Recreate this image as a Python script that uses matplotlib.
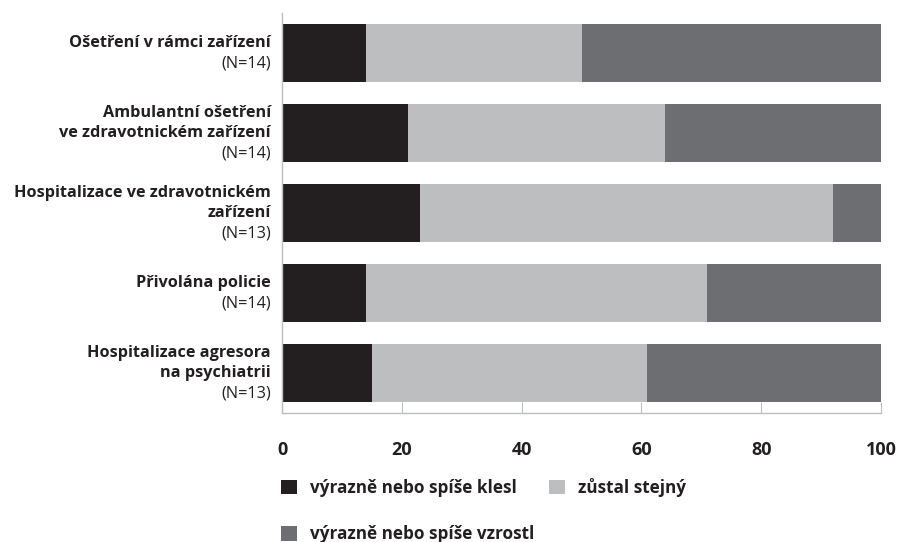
import matplotlib.pyplot as plt
from matplotlib.patches import Patch
from matplotlib.transforms import offset_copy, blended_transform_factory

plt.rcParams['font.family'] = ['Open Sans', 'DejaVu Sans']

# data
labels_bold = [
    ['Ošetření v rámci zařízení'],
    ['Ambulantní ošetření', 've zdravotnickém zařízení'],
    ['Hospitalizace ve zdravotnickém', 'zařízení'],
    ['Přivolána policie'],
    ['Hospitalizace agresora', 'na psychiatrii'],
]
counts = [14, 14, 13, 14, 13]
klesl = [14, 21, 23, 14, 15]
stejny = [36, 43, 69, 57, 46]
vzrostl = [50, 36, 8, 29, 39]
series_names = ['výrazně nebo spíše klesl', 'zůstal stejný', 'výrazně nebo spíše vzrostl']
colors = ['#231f20', '#bcbec0', '#6d6e71']
xticks = [0, 20, 40, 60, 80, 100]

fig = plt.figure(figsize=(8.99, 5.42), dpi=100)
ax = fig.add_axes([0.3137, 0.238, 0.98 - 0.3137, 0.976 - 0.238])

pos = list(range(len(counts)))
left = [0] * len(counts)
handles = []
for vals, name, c in zip([klesl, stejny, vzrostl], series_names, colors):
    ax.barh(pos, vals, left=left, height=0.725, color=c, linewidth=0)
    left = [l + v for l, v in zip(left, vals)]
    handles.append(Patch(facecolor=c, edgecolor='none', label=name))

ax.set_xlim(0, 100)
ax.set_ylim(4.5, -0.5)
ax.set_yticks([])
ax.set_xticks(xticks)
ax.set_xticklabels([str(t) for t in xticks], fontsize=13, fontweight='bold', color='#231f20')
ax.tick_params(axis='x', direction='in', length=8, width=0.8, color='#bcbec0', pad=20)
for s in ['top', 'right']:
    ax.spines[s].set_visible(False)
for s in ['left', 'bottom']:
    ax.spines[s].set_color('#bcbec0')
    ax.spines[s].set_linewidth(1)

# category labels: bold lines + regular (N=..)
trans = blended_transform_factory(ax.transAxes, ax.transData)
line_h = 14.6  # points
for i, (lines, n) in enumerate(zip(labels_bold, counts)):
    all_lines = [(t, 'bold') for t in lines] + [('(N=%d)' % n, 'normal')]
    k = len(all_lines)
    for j, (txt, w) in enumerate(all_lines):
        dy = -(j - (k - 1) / 2) * line_h
        tr = offset_copy(trans, fig=fig, x=-8, y=dy, units='points')
        ax.text(0, i, txt, transform=tr, ha='right', va='center',
                fontsize=11.7, fontweight=w, color='#231f20')

fig.legend(handles=[handles[0], handles[2], handles[1]], ncol=2,
           loc='upper left', bbox_to_anchor=(0.296, 0.146), frameon=False,
           prop={'size': 12.3, 'weight': 'bold'}, handlelength=0.9, handleheight=0.9,
           handletextpad=0.75, labelspacing=1.65, columnspacing=0.9, labelcolor='#231f20')

fig.savefig('out.png', dpi=100)
